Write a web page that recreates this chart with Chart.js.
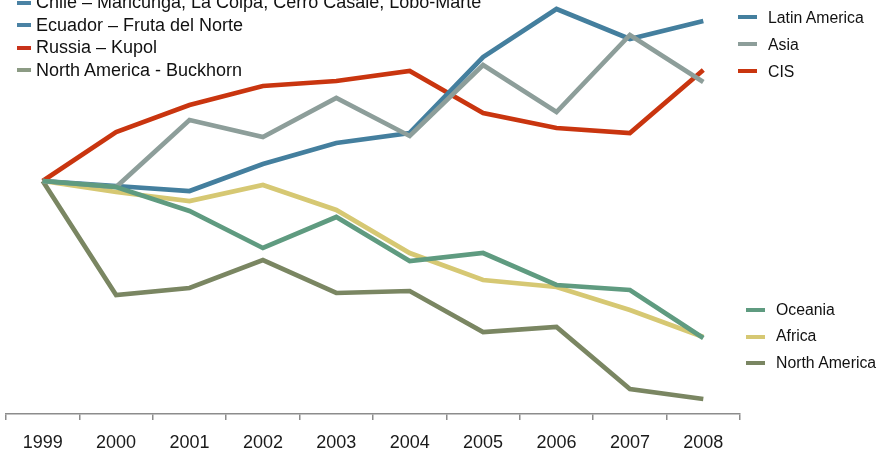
<!DOCTYPE html>
<html>
<head>
<meta charset="utf-8">
<script src="https://cdn.jsdelivr.net/npm/chart.js@4"></script>
<style>
  body { margin: 0; background: #fff; font-family: "Liberation Sans", Arial, sans-serif; }
  #wrap { position: relative; width: 880px; height: 452px; overflow: hidden; }
  .leyenda { position: absolute; color: #111; white-space: nowrap; }
  .leyenda div { display: flex; align-items: center; }
  .leyenda span.sw { display: inline-block; height: 4px; }
  #notas { left: 17px; top: -8.75px; font-size: 18px; line-height: 22.5px; }
  #notas span.sw { width: 14px; margin-right: 5px; }
  #ley_arriba { left: 738px; top: 3.5px; font-size: 15.8px; line-height: 27px; }
  #ley_abajo { left: 746px; top: 296.75px; font-size: 15.8px; line-height: 26.5px; }
  #ley_arriba span.sw, #ley_abajo span.sw { width: 19px; margin-right: 11px; }
</style>
</head>
<body>
<div id="wrap">
  <canvas id="grafico" width="880" height="452"></canvas>
  <div id="notas" class="leyenda"></div>
  <div id="ley_arriba" class="leyenda"></div>
  <div id="ley_abajo" class="leyenda"></div>
</div>
<script>
const anios = ["1999", "2000", "2001", "2002", "2003", "2004", "2005", "2006", "2007", "2008"];

// indice (1999 = 100)
const latin_america = [100, 98.75, 97.5, 104.25, 109.5, 112, 131, 143, 135.5, 140];
const asia = [100, 98.5, 115.25, 111, 120.75, 111.25, 129, 117.25, 136.5, 124.75];
const cis = [100, 112.25, 119, 123.75, 125, 127.5, 117, 113.25, 112, 127.75];
const oceania = [100, 98.5, 92.5, 83.25, 91, 80, 82, 74, 72.75, 60.75];
const africa = [100, 97.25, 95, 99, 92.75, 82, 75.25, 73.5, 67.75, 61];
const north_america = [100, 71.5, 73.25, 80.25, 72, 72.5, 62.25, 63.5, 48, 45.5];

const notas = [
  ["Chile – Maricunga, La Coipa, Cerro Casale, Lobo-Marte", "#4a82a4"],
  ["Ecuador – Fruta del Norte", "#4a82a4"],
  ["Russia – Kupol", "#c8321a"],
  ["North America - Buckhorn", "#8c9b84"],
];

const series = [
  { label: "Latin America", data: latin_america, color: "#447f9e", order: 2, grupo: "ley_arriba" },
  { label: "Asia", data: asia, color: "#8d9e9a", order: 1, grupo: "ley_arriba" },
  { label: "CIS", data: cis, color: "#c9350f", order: 4, grupo: "ley_arriba" },
  { label: "Oceania", data: oceania, color: "#5f9b80", order: 0, grupo: "ley_abajo" },
  { label: "Africa", data: africa, color: "#d6c873", order: 3, grupo: "ley_abajo" },
  { label: "North America", data: north_america, color: "#7a8662", order: 5, grupo: "ley_abajo" },
];

function fila(texto, color) {
  const d = document.createElement("div");
  const sw = document.createElement("span");
  sw.className = "sw";
  sw.style.background = color;
  d.appendChild(sw);
  d.appendChild(document.createTextNode(texto));
  return d;
}

notas.forEach(([t, c]) => document.getElementById("notas").appendChild(fila(t, c)));
series.forEach((s) => document.getElementById(s.grupo).appendChild(fila(s.label, s.color)));

const ctx = document.getElementById("grafico").getContext("2d");
new Chart(ctx, {
  type: "line",
  data: {
    labels: anios,
    datasets: series.map((s) => ({
      label: s.label,
      data: s.data,
      borderColor: s.color,
      backgroundColor: s.color,
      borderWidth: 4.7,
      pointRadius: 0,
      tension: 0,
      order: s.order,
    })),
  },
  options: {
    responsive: false,
    animation: false,
    devicePixelRatio: 1,
    layout: { padding: { left: 6, right: 140, top: 0, bottom: 0 } },
    plugins: { legend: { display: false }, tooltip: { enabled: false } },
    scales: {
      x: {
        offset: true,
        grid: { offset: true, drawOnChartArea: false, tickLength: 6, color: "#8c8c8c", lineWidth: 1.5 },
        border: { color: "#8c8c8c", width: 1.5 },
        ticks: {
          color: "#1a1a1a",
          font: { family: "Liberation Sans", size: 18 },
          padding: 12,
          maxRotation: 0,
          autoSkip: false,
        },
        afterFit: (scale) => { scale.height = 38; },
      },
      y: { display: false, min: 41.75, max: 145.25 },
    },
  },
});
</script>
</body>
</html>
